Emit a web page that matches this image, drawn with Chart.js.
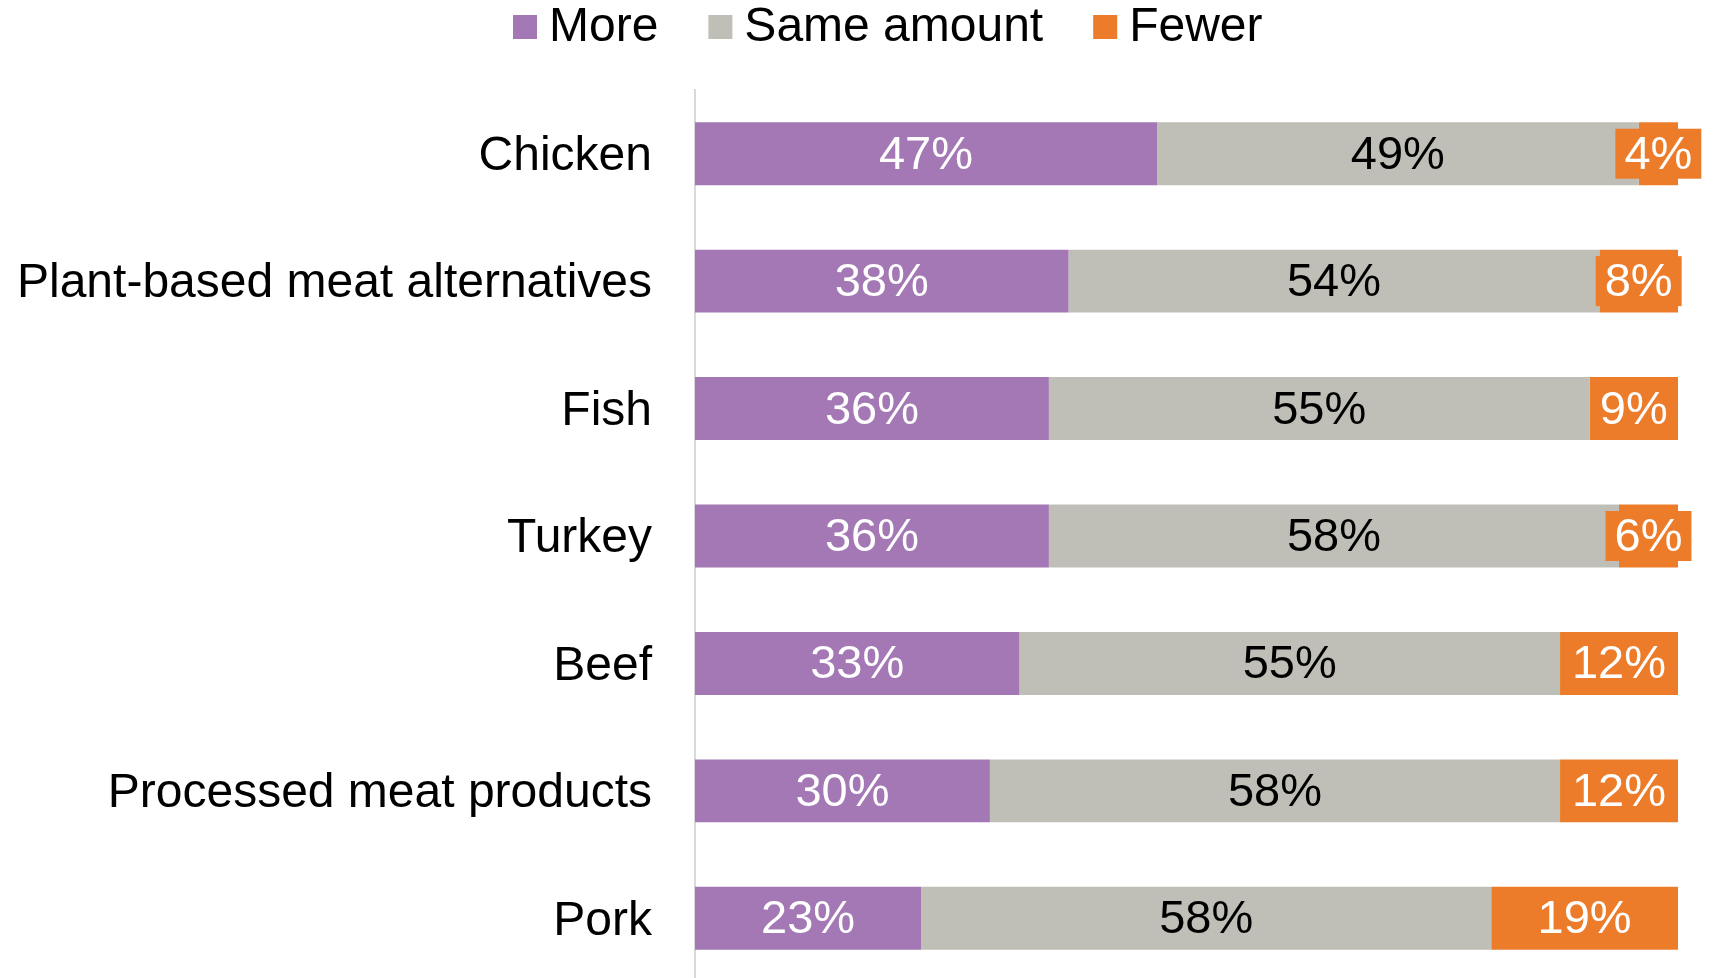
<!DOCTYPE html>
<html>
<head>
<meta charset="utf-8">
<script src="https://cdn.jsdelivr.net/npm/chart.js@4/dist/chart.umd.min.js"></script>
<style>
  html, body { margin: 0; padding: 0; background: #fff; overflow: hidden; }
  canvas { display: block; }
</style>
</head>
<body>
<canvas id="chart-meat" width="1713" height="982"></canvas>
<script>
// ==================================================
// DATA
// ==================================================
const categories = [
  "Chicken",
  "Plant-based meat alternatives",
  "Fish",
  "Turkey",
  "Beef",
  "Processed meat products",
  "Pork",
];
const seriesNames = ["More", "Same amount", "Fewer"];
const more = [47, 38, 36, 36, 33, 30, 23];
const same = [49, 54, 55, 58, 55, 58, 58];
const fewer = [4, 8, 9, 6, 12, 12, 19];

const colors = ["#A378B5", "#BFBFB7", "#EC7C2A"];
const labelColors = ["#ffffff", "#000000", "#ffffff"];
const FONT = "'Liberation Sans', Arial, sans-serif";

// ==================================================
// PLUGINS
// ==================================================
// value labels in the middle of each segment, the "Fewer" ones sit on an orange box
const segmentLabels = {
  id: "segmentLabels",
  afterDatasetsDraw(chart) {
    const ctx = chart.ctx;
    ctx.save();
    ctx.font = "47px " + FONT;
    ctx.textAlign = "center";
    ctx.textBaseline = "middle";
    chart.data.datasets.forEach((ds, i) => {
      const meta = chart.getDatasetMeta(i);
      meta.data.forEach((bar, j) => {
        const text = ds.data[j] + "%";
        const cx = (bar.x + bar.base) / 2;
        const cy = bar.y;
        if (i === 2) {
          const w = ctx.measureText(text).width + 18;
          ctx.fillStyle = colors[2];
          ctx.fillRect(cx - w / 2, cy - 25, w, 50);
        }
        ctx.fillStyle = labelColors[i];
        ctx.fillText(text, cx, cy + 2);
      });
    });
    ctx.restore();
  },
};

// legend row across the top
const topLegend = {
  id: "topLegend",
  afterDraw(chart) {
    const ctx = chart.ctx;
    ctx.save();
    ctx.font = "48px " + FONT;
    ctx.textBaseline = "middle";
    ctx.textAlign = "left";
    let x = 513;
    const y = 27;
    seriesNames.forEach((name, i) => {
      ctx.fillStyle = colors[i];
      ctx.fillRect(x, y - 12, 24, 24);
      x += 24 + 12;
      ctx.fillStyle = "#000";
      ctx.fillText(name, x, y + 1);
      x += ctx.measureText(name).width + 50;
    });
    ctx.restore();
  },
};

// ==================================================
// CHART
// ==================================================
const ctx = document.getElementById("chart-meat").getContext("2d");

new Chart(ctx, {
  type: "bar",
  data: {
    labels: categories,
    datasets: [more, same, fewer].map((values, i) => ({
      label: seriesNames[i],
      data: values,
      backgroundColor: colors[i],
      borderWidth: 0,
      categoryPercentage: 1,
      barPercentage: 0.494,
    })),
  },
  options: {
    indexAxis: "y",
    responsive: false,
    animation: false,
    devicePixelRatio: 1,
    layout: { padding: { top: 90, right: 35, bottom: 0, left: 0 } },
    plugins: {
      legend: { display: false },
      tooltip: { enabled: false },
    },
    scales: {
      x: {
        stacked: true,
        min: 0,
        max: 100,
        display: false,
      },
      y: {
        stacked: true,
        grid: { display: false, drawTicks: false },
        border: { display: true, color: "#D9D9D9", width: 2 },
        ticks: {
          color: "#000",
          padding: 43,
          labelOffset: 3,
          font: { family: FONT, size: 48 },
        },
        afterFit(scale) {
          // fixed label column, and no extra room above/below for the labels
          scale.width = 695;
          scale.paddingTop = 0;
          scale.paddingBottom = 0;
        },
      },
    },
  },
  plugins: [segmentLabels, topLegend],
});
</script>
</body>
</html>
